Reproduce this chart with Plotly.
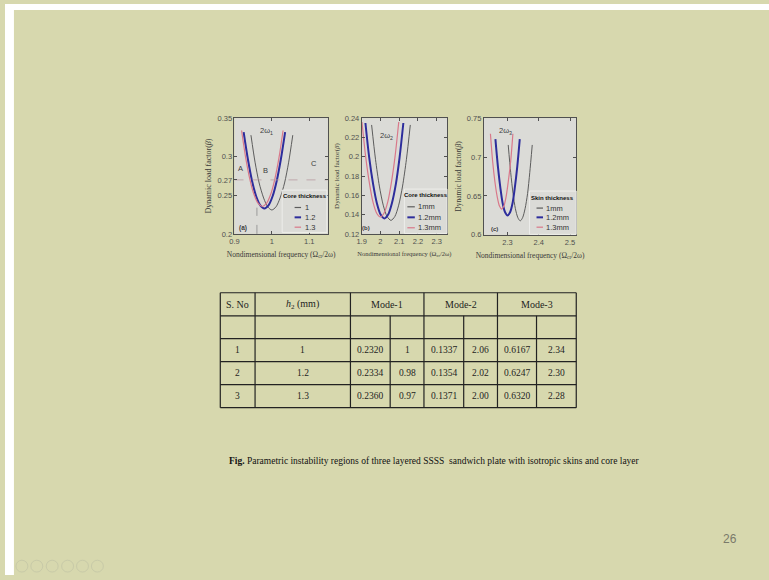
import plotly.graph_objects as go

W, H = 769, 580
def px(x): return x / W
def py(y): return 1 - y / H

SLIDE = "#D7D8AE"
PLOT_BG = "#DBDBD7"
GRAY = "#5c5c5c"
BLUE = "#2d2d9c"
RED = "#d9788a"
SERIF = "Liberation Serif, Times New Roman, serif"
SANS = "Liberation Sans, Arial, sans-serif"

# ---------------- data: panel (a) mode-1, core thickness ----------------
a_x_1 = [0.944, 0.955, 0.966, 0.978, 0.989, 1.000, 1.011, 1.022, 1.034, 1.045, 1.056]
a_y_1 = [0.328, 0.293, 0.266, 0.2465, 0.235, 0.231, 0.235, 0.2465, 0.266, 0.293, 0.328]
a_x_12 = [0.9245, 0.936, 0.947, 0.958, 0.969, 0.980, 0.991, 1.002, 1.013, 1.024, 1.0355]
a_y_12 = [0.332, 0.2964, 0.2686, 0.2488, 0.237, 0.233, 0.237, 0.2488, 0.2686, 0.2964, 0.332]
a_x_13 = [0.919, 0.930, 0.941, 0.952, 0.9635, 0.9745, 0.9855, 0.997, 1.008, 1.019, 1.030]
a_y_13 = [0.334, 0.2985, 0.271, 0.2513, 0.2394, 0.2355, 0.2394, 0.2513, 0.271, 0.2985, 0.334]
a_hline_x = [0.9, 1.15]
a_hline_y = [0.27, 0.27]
a_vline_x = [0.96, 0.96]
a_vline_y = [0.2, 0.234]

# ---------------- panel (b) mode-2 ----------------
b_x_1 = [1.953, 1.9736, 1.9942, 2.0148, 2.0354, 2.056, 2.0766, 2.0972, 2.1178, 2.1384, 2.159]
b_y_1 = [0.233, 0.1974, 0.1696, 0.1498, 0.138, 0.134, 0.138, 0.1498, 0.1696, 0.1974, 0.233]
b_x_12 = [1.920, 1.940, 1.961, 1.981, 2.001, 2.021, 2.041, 2.061, 2.082, 2.102, 2.122]
b_y_12 = [0.235, 0.1994, 0.1716, 0.1518, 0.140, 0.136, 0.140, 0.1518, 0.1716, 0.1994, 0.235]
b_x_13 = [1.9015, 1.921, 1.941, 1.960, 1.980, 1.9995, 2.019, 2.039, 2.058, 2.078, 2.0975]
b_y_13 = [0.236, 0.2006, 0.1729, 0.1531, 0.1414, 0.1375, 0.1414, 0.1531, 0.1729, 0.2006, 0.236]

# ---------------- panel (c) mode-3, skin thickness ----------------
c_x_1 = [2.302, 2.310, 2.3175, 2.325, 2.333, 2.3405, 2.348, 2.356, 2.364, 2.371, 2.379]
c_y_1 = [0.7156, 0.680, 0.653, 0.6336, 0.622, 0.618, 0.622, 0.6336, 0.653, 0.680, 0.7156]
c_x_12 = [2.261, 2.269, 2.277, 2.284, 2.292, 2.300, 2.308, 2.316, 2.323, 2.331, 2.339]
c_y_12 = [0.723, 0.6877, 0.660, 0.641, 0.629, 0.625, 0.629, 0.641, 0.660, 0.6877, 0.723]
c_x_13 = [2.245, 2.252, 2.2595, 2.267, 2.274, 2.281, 2.288, 2.295, 2.302, 2.310, 2.317]
c_y_13 = [0.730, 0.695, 0.668, 0.6485, 0.637, 0.633, 0.637, 0.6485, 0.668, 0.695, 0.730]

# ---------------- ticks ----------------
a_xticks = [0.9, 1.0, 1.1]
a_xtext = ["0.9", "1", "1.1"]
a_yticks = [0.2, 0.25, 0.27, 0.3, 0.35]
a_ytext = ["0.2", "0.25", "0.27", "0.3", "0.35"]
b_xticks = [1.9, 2.0, 2.1, 2.2, 2.3]
b_xtext = ["1.9", "2", "2.1", "2.2", "2.3"]
b_yticks = [0.12, 0.14, 0.16, 0.18, 0.2, 0.22, 0.24]
b_ytext = ["0.12", "0.14", "0.16", "0.18", "0.2", "0.22", "0.24"]
c_xticks = [2.3, 2.4, 2.5]
c_xtext = ["2.3", "2.4", "2.5"]
c_yticks = [0.6, 0.65, 0.7, 0.75]
c_ytext = ["0.6", "0.65", "0.7", "0.75"]

# ---------------- legend labels ----------------
a_legend_title = "Core thickness"
a_labels = ["1", "1.2", "1.3"]
b_legend_title = "Core thickness"
b_labels = ["1mm", "1.2mm", "1.3mm"]
c_legend_title = "Skin thickness"
c_labels = ["1mm", "1.2mm", "1.3mm"]

# ---------------- table ----------------
tbl_header = ["S. No", "<i>h</i><sub>2</sub> (mm)", "Mode-1", "Mode-2", "Mode-3"]
tbl_sno = ["1", "2", "3"]
tbl_h2 = ["1", "1.2", "1.3"]
tbl_m1_beta = ["0.2320", "0.2334", "0.2360"]
tbl_m1_freq = ["1", "0.98", "0.97"]
tbl_m2_beta = ["0.1337", "0.1354", "0.1371"]
tbl_m2_freq = ["2.06", "2.02", "2.00"]
tbl_m3_beta = ["0.6167", "0.6247", "0.6320"]
tbl_m3_freq = ["2.34", "2.30", "2.28"]

caption = ("<b>Fig.</b> Parametric instability regions of three layered SSSS  "
           "sandwich plate with isotropic skins and core layer")
page_no = "26"

fig = go.Figure()

series_style = [(GRAY, 1.0), (BLUE, 2.0), (RED, 1.2)]
panels = [
    ("x", "y", [(a_x_1, a_y_1), (a_x_12, a_y_12), (a_x_13, a_y_13)], a_labels),
    ("x2", "y2", [(b_x_1, b_y_1), (b_x_12, b_y_12), (b_x_13, b_y_13)], b_labels),
    ("x3", "y3", [(c_x_1, c_y_1), (c_x_12, c_y_12), (c_x_13, c_y_13)], c_labels),
]
for xa, ya, curves, labels in panels:
    for (xs, ys), (col, wd), lab in zip(curves, series_style, labels):
        fig.add_trace(go.Scatter(x=xs, y=ys, xaxis=xa, yaxis=ya, mode="lines", name=lab,
                                 line=dict(color=col, width=wd, shape="spline", smoothing=0.8),
                                 showlegend=False, hoverinfo="skip"))

fig.add_trace(go.Scatter(x=a_hline_x, y=a_hline_y, xaxis="x", yaxis="y", mode="lines",
                         line=dict(color="#b89aa0", width=0.8, dash="dash"), showlegend=False, hoverinfo="skip"))
fig.add_trace(go.Scatter(x=a_vline_x, y=a_vline_y, xaxis="x", yaxis="y", mode="lines",
                         line=dict(color="#8a8a8a", width=0.8, dash="dash"), showlegend=False, hoverinfo="skip"))

def axis(domain, rng, tv, tt, title, tsize, standoff):
    return dict(domain=domain, range=rng, tickvals=tv, ticktext=tt,
                showline=True, linecolor="#505050", linewidth=0.8, mirror="ticks",
                ticks="inside", ticklen=3, tickcolor="#505050", tickwidth=0.8,
                showgrid=False, zeroline=False, fixedrange=True,
                tickfont=dict(family=SANS, size=7.5, color="#505050"),
                title=dict(text=title, font=dict(family=SERIF, size=tsize, color="#3a3a3a"),
                           standoff=standoff))

xtitle = "Nondimensional frequency (Ω<sub>cr</sub>/2ω)"
ytitle = "Dynamic load factor(<i>β</i>)"

fig.update_layout(
    width=W, height=H, margin=dict(l=0, r=0, t=0, b=0),
    paper_bgcolor=SLIDE, plot_bgcolor=PLOT_BG, showlegend=False,
    xaxis=axis([px(231), px(325)], [0.9, 1.15], a_xticks, a_xtext, xtitle, 7.5, 6),
    yaxis=axis([py(233.5), py(116)], [0.2, 0.35], a_yticks, a_ytext, ytitle, 8, 4),
    xaxis2=axis([px(359), px(445)], [1.9, 2.355], b_xticks, b_xtext, xtitle, 6.5, 6),
    yaxis2=axis([py(233.5), py(116)], [0.12, 0.24], b_yticks, b_ytext, ytitle, 7, 4),
    xaxis3=axis([px(482), px(575)], [2.224, 2.52], c_xticks, c_xtext, xtitle, 7.5, 6),
    yaxis3=axis([py(234.5), py(116)], [0.6, 0.75], c_yticks, c_ytext, ytitle, 7.5, 4),
)
for k in ["xaxis", "xaxis2", "xaxis3"]:
    fig.layout[k].anchor = "y" + k[5:]
for k in ["yaxis", "yaxis2", "yaxis3"]:
    fig.layout[k].anchor = "x" + k[5:]

ann = []
shapes = []

def data_text(text, x, y, xr, yr, size=7.5):
    ann.append(dict(text=text, x=x, y=y, xref=xr, yref=yr, showarrow=False,
                    xanchor="center", yanchor="middle",
                    font=dict(family=SANS, size=size, color="#3c3c3c")))

def paper_text(text, x, y, family, size, color, xanchor="center"):
    ann.append(dict(text=text, x=px(x), y=py(y), xref="paper", yref="paper", showarrow=False,
                    xanchor=xanchor, yanchor="middle",
                    font=dict(family=family, size=size, color=color)))

data_text("A", 0.915, 0.285, "x", "y")
data_text("B", 0.983, 0.282, "x", "y")
data_text("C", 1.112, 0.291, "x", "y")
data_text("2ω<sub>1</sub>", 0.985, 0.334, "x", "y")
data_text("<b>(a)</b>", 0.923, 0.208, "x", "y", 6.5)
data_text("2ω<sub>2</sub>", 2.030, 0.222, "x2", "y2")
data_text("<b>(b)</b>", 1.925, 0.126, "x2", "y2", 6)
data_text("2ω<sub>3</sub>", 2.292, 0.734, "x3", "y3")
data_text("<b>(c)</b>", 2.259, 0.607, "x3", "y3", 6)

# ---------------- manual legends ----------------
legend_specs = [
    (a_legend_title, a_labels, (279, 189, 324, 232), (301.5, 195.5), [206.7, 216.7, 226.7], (291.5, 298), 299.5),
    (b_legend_title, b_labels, (402, 188, 445, 233), (423.5, 194.5), [206, 216.7, 227.3], (405, 412.5), 414),
    (c_legend_title, c_labels, (528, 190, 575, 234), (551.5, 197), [207.3, 216.7, 226.7], (535, 541.5), 542.5),
]
leg_styles = [(GRAY, 1.2, "dash"), (BLUE, 2.0, "solid"), (RED, 1.2, "dash")]
for title, labels, box, txy, rows, lx, tx in legend_specs:
    shapes.append(dict(type="rect", xref="paper", yref="paper", x0=px(box[0]), x1=px(box[2]),
                       y0=py(box[3]), y1=py(box[1]), fillcolor=PLOT_BG,
                       line=dict(color="#f2f2f0", width=0.8), layer="above"))
    paper_text("<b>" + title + "</b>", txy[0], txy[1], SANS, 6, "#111")
    for r, lab, (col, wd, ds) in zip(rows, labels, leg_styles):
        shapes.append(dict(type="line", xref="paper", yref="paper", x0=px(lx[0]), x1=px(lx[1]),
                           y0=py(r), y1=py(r), line=dict(color=col, width=wd, dash=ds), layer="above"))
        paper_text(lab, tx, r, SANS, 7.5, "#333", xanchor="left")

# ---------------- table ----------------
col_edges = [216.7, 251.7, 347.7, 387.7, 421.7, 461.7, 495.7, 535, 575]
row_edges = [293.3, 316.7, 340, 363.3, 386.7, 410]
for yv in row_edges:
    shapes.append(dict(type="line", xref="paper", yref="paper", x0=px(col_edges[0]), x1=px(col_edges[-1]),
                       y0=py(yv), y1=py(yv), line=dict(color="#222", width=1.2)))
for i, xv in enumerate(col_edges):
    top = row_edges[0] if i in (0, 1, 2, 4, 6, 8) else row_edges[1]
    shapes.append(dict(type="line", xref="paper", yref="paper", x0=px(xv), x1=px(xv),
                       y0=py(top), y1=py(row_edges[-1]), line=dict(color="#222", width=1.2)))

hdr_y = (row_edges[0] + row_edges[1]) / 2
hdr_x = [(col_edges[0] + col_edges[1]) / 2, (col_edges[1] + col_edges[2]) / 2,
         (col_edges[2] + col_edges[4]) / 2, (col_edges[4] + col_edges[6]) / 2,
         (col_edges[6] + col_edges[8]) / 2]
for t, x in zip(tbl_header, hdr_x):
    paper_text(t, x, hdr_y, SERIF, 10, "#1e1e1e")
cols = [tbl_sno, tbl_h2, tbl_m1_beta, tbl_m1_freq, tbl_m2_beta, tbl_m2_freq, tbl_m3_beta, tbl_m3_freq]
for ci, colvals in enumerate(cols):
    xc = (col_edges[ci] + col_edges[ci + 1]) / 2
    for ri, v in enumerate(colvals):
        yc = (row_edges[ri + 2] + row_edges[ri + 3]) / 2
        paper_text(v, xc, yc, SERIF, 9.5, "#1e1e1e")

# ---------------- caption / page number ----------------
paper_text(caption, 432, 464, SERIF, 9.5, "#111")
paper_text(page_no, 730, 543, SANS, 12, "#7a7a6a")

# slide border strips and nav icons
shapes.append(dict(type="rect", xref="paper", yref="paper", x0=0, x1=px(9), y0=0, y1=1,
                   fillcolor="white", line=dict(width=0)))
shapes.append(dict(type="rect", xref="paper", yref="paper", x0=0, x1=1, y0=py(6), y1=1,
                   fillcolor="white", line=dict(width=0)))
for cx in [17, 32, 47.5, 63, 78, 93]:
    shapes.append(dict(type="circle", xref="paper", yref="paper", x0=px(cx - 6), x1=px(cx + 6),
                       y0=py(577), y1=py(565), line=dict(color="#c8caa8", width=1)))

fig.update_layout(annotations=ann, shapes=shapes)
fig.write_html("out.html")
